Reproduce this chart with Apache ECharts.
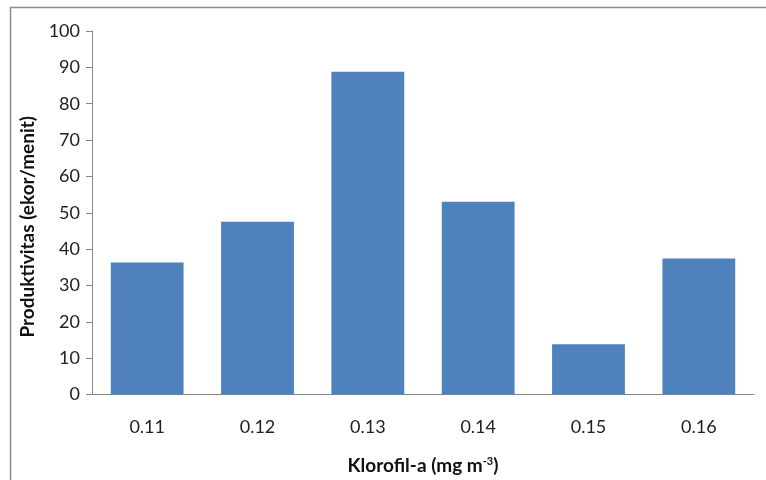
<!DOCTYPE html>
<html><head><meta charset="utf-8">
<script src="https://cdn.jsdelivr.net/npm/echarts@6/dist/echarts.min.js"></script>
<style>html,body{margin:0;padding:0;background:#fff}#c{width:766px;height:480px}</style>
</head><body><div id="c"></div>
<script>
const categories = ['0.11','0.12','0.13','0.14','0.15','0.16'];
const productivity = [36.3, 47.5, 88.8, 53.0, 13.8, 37.4];
const yTicks = {min: 0, max: 100, interval: 10};
const chart = echarts.init(document.getElementById('c'), null, {renderer:'canvas'});
const font = 'Lato, "Open Sans", sans-serif';
chart.setOption({
  animation: false,
  graphic: [{type:'rect', shape:{x:10.5, y:7.5, width:800, height:520}, style:{fill:'none', stroke:'#8c8c8c', lineWidth:1.5}, silent:true, z:-1}],
  grid: {left: 92, right: 12, top: 31, bottom: 84.5},
  xAxis: {
    type: 'category', data: categories,
    axisLine: {lineStyle: {color: '#868686'}},
    axisTick: {alignWithLabel: false, length: 5, lineStyle: {color: '#868686'}},
    axisLabel: {color: '#222', fontSize: 18, fontFamily: font, margin: 24},
    name: '{b|Klorofil-a (mg m}{s|-3}{b|)}', nameLocation: 'middle', nameGap: 61,
    nameTextStyle: {rich: {
      b: {fontSize: 19, fontWeight: 'bold', fontFamily: font, color: '#111'},
      s: {fontSize: 11, fontWeight: 'bold', fontFamily: font, color: '#111', verticalAlign: 'top', padding:[0,0,9,0]}
    }}
  },
  yAxis: {
    type: 'value', min: yTicks.min, max: yTicks.max, interval: yTicks.interval,
    splitLine: {show: false},
    axisLine: {show: true, lineStyle: {color: '#868686'}},
    axisTick: {show: true, length: 6, lineStyle: {color: '#868686'}},
    axisLabel: {color: '#222', fontSize: 18, fontFamily: font, margin: 12},
    name: 'Produktivitas (ekor/menit)', nameLocation: 'middle', nameGap: 47,
    nameTextStyle: {fontSize: 19, fontWeight: 'bold', fontFamily: font, color: '#111', padding: [0, 28, 0, 0]}
  },
  series: [{
    type: 'bar', data: productivity, barWidth: '66%',
    itemStyle: {color: '#4f81bd'}
  }]
});
</script></body></html>
